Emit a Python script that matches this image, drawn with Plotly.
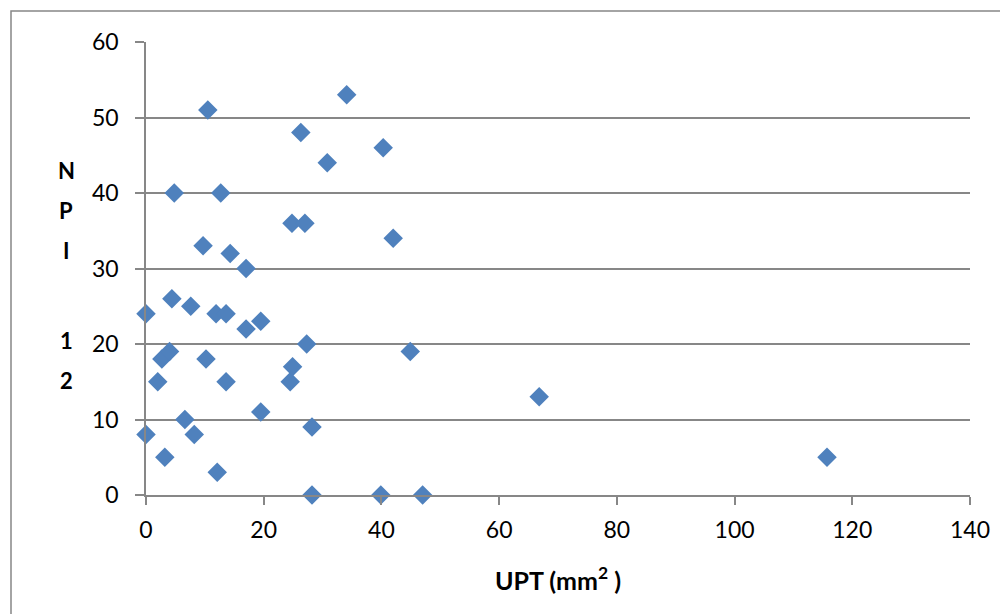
import plotly.graph_objects as go

upt = [0, 0, 2, 2.7, 4, 3.2, 4.4, 4.8, 6.6, 7.6, 8.2, 9.7, 10.2, 10.5, 11.9, 12.1, 12.7,
       13.6, 13.6, 14.3, 17, 17, 19.5, 19.5, 24.5, 24.9, 24.8, 26.3, 27, 27.3, 28.2, 28.2,
       30.8, 34.1, 39.9, 40.3, 42, 44.9, 47, 66.8, 115.7]
npi = [8, 24, 15, 18, 19, 5, 26, 40, 10, 25, 8, 33, 18, 51, 24, 3, 40,
       24, 15, 32, 30, 22, 23, 11, 15, 17, 36, 48, 36, 20, 9, 0,
       44, 53, 0, 46, 34, 19, 0, 13, 5]

y_title_chars = ["N", "P", "I", "1", "2"]
y_title_pos = [170, 210, 250, 340, 380]

x_ticks = [0, 20, 40, 60, 80, 100, 120, 140]
y_ticks = [0, 10, 20, 30, 40, 50, 60]

OFF = 8  # page body margin
W, H = 1008 - OFF, 614 - OFF
L, R, T, B = 146 - OFF, 38, 42 - OFF, 119
pw, ph = W - L - R, H - T - B


def px(xp):
    return (xp - OFF - L) / pw


def py(yp):
    return (H - B - (yp - OFF)) / ph


fig = go.Figure(go.Scatter(
    x=upt, y=npi, mode="markers",
    marker=dict(symbol="diamond", size=15, color="#4F81BD", line=dict(width=0)),
    cliponaxis=False,
))

grid = "#878787"
fig.update_layout(
    width=W, height=H, margin=dict(l=L, r=R, t=T, b=B),
    paper_bgcolor="white", plot_bgcolor="white", showlegend=False,
    font=dict(family="Lato, Open Sans, sans-serif", size=23, color="#000"),
    xaxis=dict(range=[0, 140], tickvals=x_ticks, showgrid=False, zeroline=False,
               showline=True, linecolor=grid, linewidth=1.5,
               ticks="outside", ticklen=8, tickcolor=grid, tickwidth=1.5,
               ticklabelstandoff=6),
    yaxis=dict(range=[0, 60], tickvals=y_ticks, showgrid=True, gridcolor=grid, gridwidth=1.5,
               zeroline=False, showline=True, linecolor=grid, linewidth=1.5,
               ticks="outside", ticklen=9, tickcolor=grid, tickwidth=1.5,
               ticklabelstandoff=12),
)

annotations = [dict(text="<b>UPT (mm<sup>2</sup> )</b>", xref="paper", yref="paper",
                    x=0.5, y=py(578), xanchor="center", yanchor="middle",
                    showarrow=False, font=dict(family="Lato, sans-serif", size=25))]
for ch, yp in zip(y_title_chars, y_title_pos):
    annotations.append(dict(text="<b>%s</b>" % ch, xref="paper", yref="paper",
                            x=px(66), y=py(yp),
                            xanchor="center", yanchor="middle", showarrow=False,
                            font=dict(family="Lato, sans-serif", size=22)))
fig.update_layout(annotations=annotations)

fig.add_shape(type="rect", xref="paper", yref="paper",
              x0=px(11), x1=px(1015), y0=py(620), y1=py(11),
              line=dict(color=grid, width=1.5), fillcolor="rgba(0,0,0,0)", layer="below")

fig.write_html("out.html")
